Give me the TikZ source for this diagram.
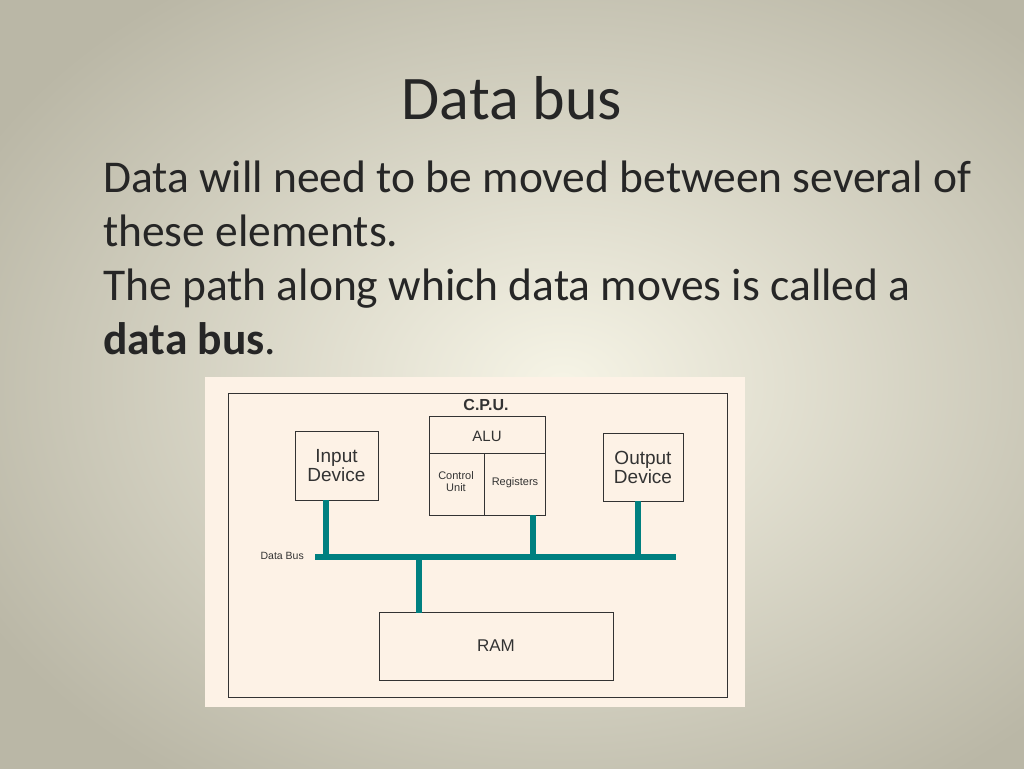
\documentclass[tikz,border=0pt]{standalone}
\usepackage{fontspec}
\setmainfont{Carlito}
\newfontfamily\arialf{Liberation Sans}
\begin{document}
\begin{tikzpicture}[x=1pt,y=-1pt,
  box/.style={draw=black!80,line width=1pt},
  bus/.style={draw={rgb,255:red,0;green,128;blue,128},line width=6pt},
  dt/.style={font=\arialf\fontsize{#1}{#1}\selectfont,text=black!80,inner sep=0pt},
  body/.style={anchor=base west,font=\fontsize{45.5}{52}\selectfont,text=black!85,inner sep=0pt}]
\useasboundingbox (0,0) rectangle (1024,768);
\definecolor{bgin}{HTML}{F6F4E6}
\definecolor{bgout}{HTML}{BAB7A6}
\shade[inner color=bgin,outer color=bgout] (-100,-100) rectangle (1224,868);
\node[font=\fontsize{62}{66}\selectfont,text=black!85] (title) at (512,98) {Data bus};
\node[body] (l1) at (103,192) {Data will need to be moved between several of};
\node[body] (l2) at (103,246) {these elements.};
\node[body] (l3) at (103,300) {The path along which data moves is called a};
\node[body] (l4) at (103,354) {\textbf{data bus}.};
\fill[color={rgb,255:red,253;green,242;blue,230}] (205,377) rectangle (745,707);
\draw[box] (228,393) rectangle (727,697);
\node[dt=16,font=\arialf\bfseries\fontsize{16}{16}\selectfont] (cpul) at (486,405) {C.P.U.};
\draw[box] (429,416) rectangle (545,515);
\draw[box] (429,453) -- (545,453);
\draw[box] (484,453) -- (484,515);
\node[dt=15] (alu) at (487,436) {ALU};
\node[dt=11,align=center] (cu) at (456,482) {Control\\[1pt]Unit};
\node[dt=11] (reg) at (515,483) {Registers};
\coordinate (cpub) at (533,515);
\node[box,minimum width=83,minimum height=69,inner sep=0pt,dt=19,align=center,draw=black!80] (in) at (336.5,465.5) {Input\\Device};
\node[box,minimum width=80,minimum height=68,inner sep=0pt,dt=19,align=center,draw=black!80] (out) at (643,467) {Output\\Device};
\node[box,minimum width=234,minimum height=68,inner sep=0pt,dt=17,draw=black!80] (ram) at (496,646) {RAM};
\coordinate (bl) at (315,557);
\coordinate (br) at (676,557);
\draw[bus] (bl) -- (br);
\draw[bus] (326,557) -- (326,500);
\draw[bus] (cpub) -- (533,557);
\draw[bus] (638,557) -- (638,501);
\draw[bus] (419,557) -- (419,613);
\node[dt=10.5,anchor=east] (dbl) at (304,556) {Data Bus};
\end{tikzpicture}
\end{document}
